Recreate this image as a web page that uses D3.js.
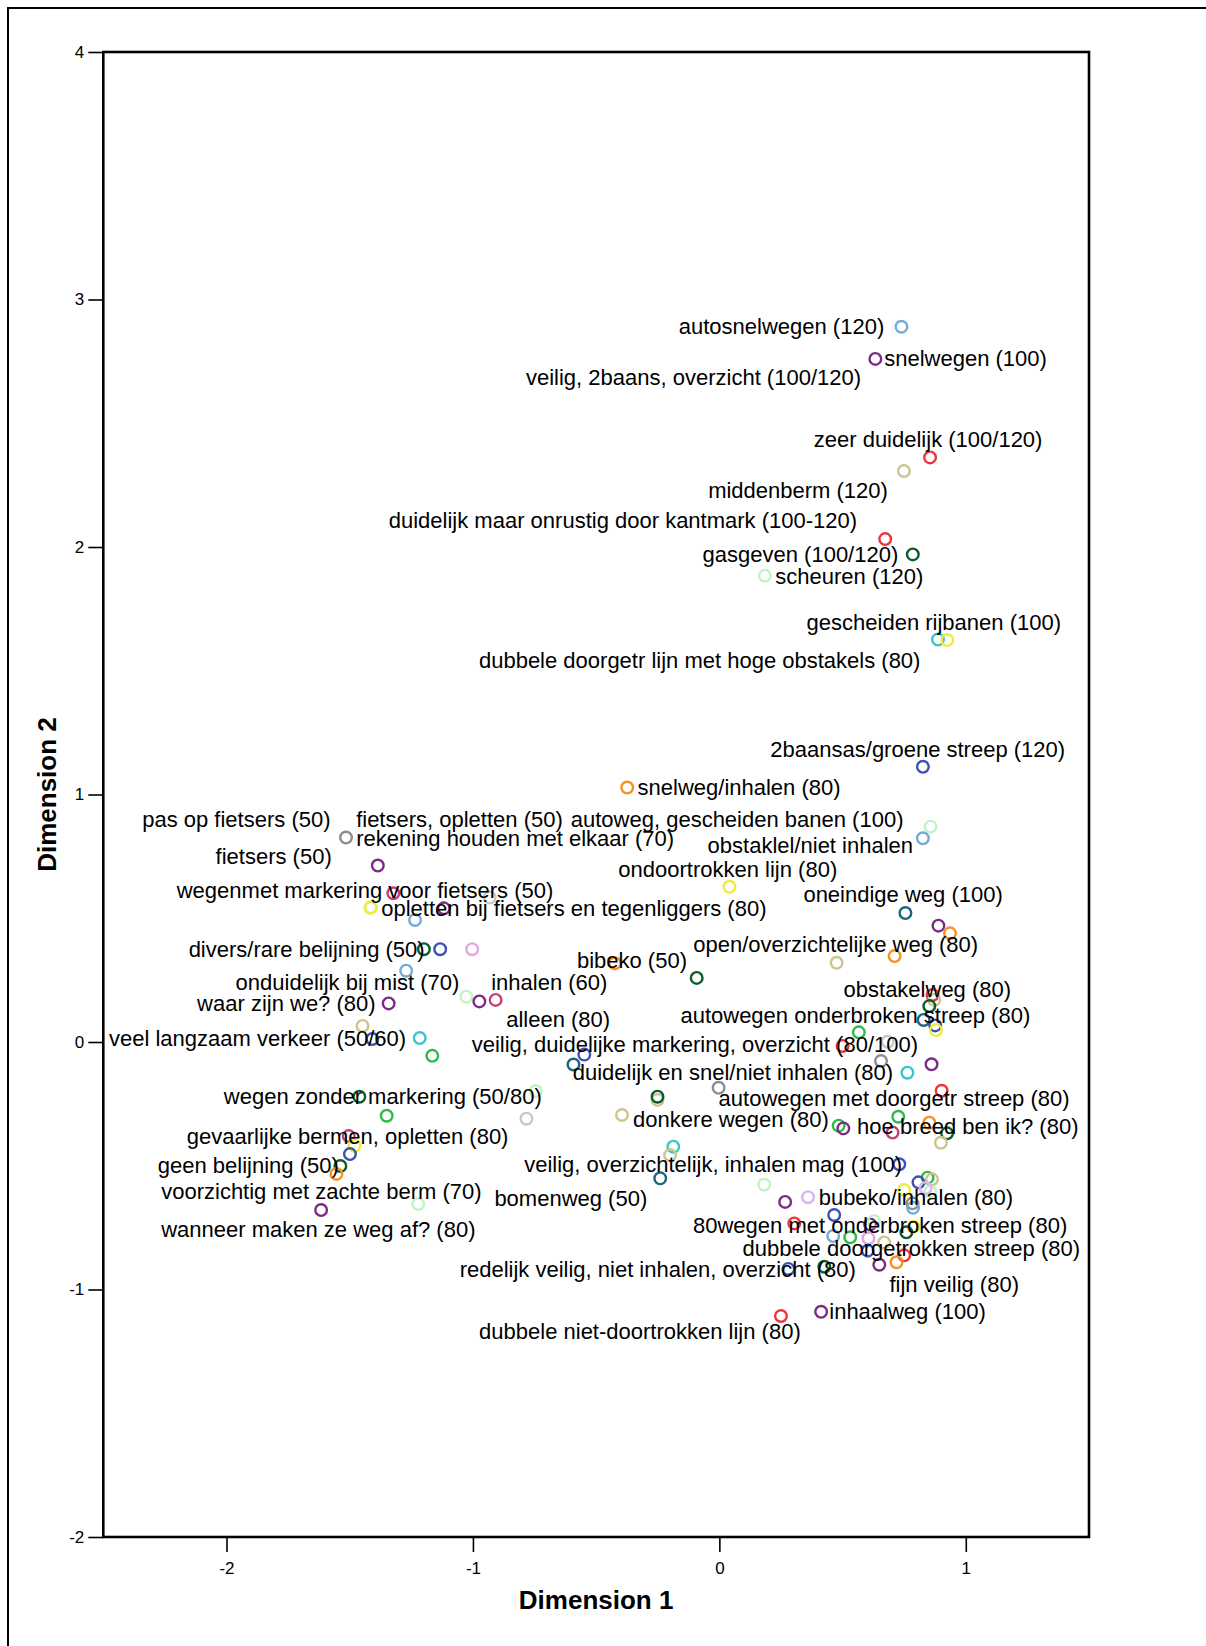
<!DOCTYPE html>
<html>
<head>
<meta charset="utf-8">
<script src="https://cdn.jsdelivr.net/npm/d3@7"></script>
<style>
  body { margin: 0; background: #fff; }
  svg { display: block; }
  text { font-family: "Liberation Sans", Arial, sans-serif; }
</style>
</head>
<body>
<script>
// Object coordinates on the two dimensions, with the colour group of each point
const points = [
  [0.739, 2.890, "lightblue"], [0.633, 2.760, "purple"], [0.855, 2.362, "red"],
  [0.749, 2.307, "tan"], [0.673, 2.032, "red"], [0.785, 1.970, "darkgreen"],
  [0.185, 1.884, "lightgreen"], [0.887, 1.626, "cyan"], [0.925, 1.624, "yellow"],
  [0.826, 1.112, "blue"], [-0.374, 1.028, "orange"], [0.857, 0.870, "lightgreen"],
  [0.826, 0.823, "lightblue"], [0.041, 0.627, "yellow"], [0.755, 0.521, "teal"],
  [0.889, 0.470, "purple"], [0.936, 0.439, "orange"], [0.711, 0.347, "orange"],
  [0.476, 0.320, "tan"], [-0.424, 0.318, "orange"], [-0.092, 0.259, "darkgreen"],
  [0.865, 0.190, "red"], [0.872, 0.170, "tan"], [0.852, 0.145, "darkgreen"],
  [0.829, 0.089, "teal"], [0.876, 0.067, "blue"], [0.879, 0.048, "yellow"],
  [0.566, 0.039, "green"], [0.683, 0.001, "lightgray"], [0.500, -0.016, "red"],
  [0.656, -0.077, "gray"], [0.861, -0.090, "purple"], [0.763, -0.124, "cyan"],
  [0.902, -0.197, "red"], [0.726, -0.302, "green"], [0.852, -0.326, "orange"],
  [0.484, -0.338, "green"], [0.503, -0.349, "purple"], [0.703, -0.366, "crimson"],
  [0.924, -0.369, "darkgreen"], [0.899, -0.407, "tan"], [0.730, -0.494, "blue"],
  [0.845, -0.548, "green"], [0.863, -0.555, "tan"], [0.808, -0.567, "blue"],
  [0.856, -0.605, "lightgreen"], [0.837, -0.590, "lavender"], [0.750, -0.598, "yellow"],
  [0.784, -0.652, "gray"], [0.786, -0.670, "lightblue"], [0.466, -0.699, "blue"],
  [0.612, -0.737, "purple"], [0.627, -0.724, "lightgreen"], [0.788, -0.746, "yellow"],
  [0.759, -0.769, "darkgreen"], [0.462, -0.784, "lightblue"], [0.531, -0.789, "green"],
  [0.605, -0.793, "pink"], [0.669, -0.810, "tan"], [0.602, -0.843, "blue"],
  [0.750, -0.862, "red"], [0.719, -0.890, "orange"], [0.649, -0.900, "purple"],
  [0.426, -0.908, "darkgreen"], [0.413, -1.090, "purple"], [0.304, -0.733, "red"],
  [0.280, -0.917, "blue"], [0.250, -1.107, "red"], [0.267, -0.646, "purple"],
  [0.360, -0.627, "lavender"], [0.182, -0.576, "lightgreen"], [-0.240, -0.551, "teal"],
  [-0.187, -0.423, "cyan"], [-0.200, -0.457, "tan"], [-0.395, -0.295, "tan"],
  [-0.251, -0.234, "tan"], [-0.251, -0.221, "darkgreen"], [-0.003, -0.185, "gray"],
  [-0.745, -0.198, "lightgreen"], [-0.783, -0.310, "lightgray"], [-0.548, -0.051, "blue"],
  [-0.592, -0.091, "teal"], [-1.515, 0.826, "gray"], [-1.386, 0.713, "purple"],
  [-1.323, 0.601, "crimson"], [-0.932, 0.584, "lightgray"], [-1.415, 0.543, "olive"],
  [-1.415, 0.543, "yellow"], [-1.118, 0.540, "purple"], [-1.235, 0.493, "lightblue"],
  [-1.199, 0.375, "darkgreen"], [-1.133, 0.375, "blue"], [-1.003, 0.375, "pink"],
  [-1.271, 0.288, "lightblue"], [-1.027, 0.183, "lightgreen"], [-0.974, 0.164, "purple"],
  [-0.908, 0.170, "crimson"], [-1.342, 0.156, "purple"], [-1.448, 0.065, "tan"],
  [-1.408, 0.012, "blue"], [-1.216, 0.016, "cyan"], [-1.165, -0.056, "green"],
  [-1.461, -0.221, "darkgreen"], [-1.350, -0.298, "green"], [-1.504, -0.380, "crimson"],
  [-1.481, -0.419, "yellow"], [-1.499, -0.453, "blue"], [-1.538, -0.501, "darkgreen"],
  [-1.554, -0.533, "orange"], [-1.222, -0.655, "lightgreen"], [-1.616, -0.679, "purple"]
];

// Object labels: text, anchor on dimension 1, dimension 2, and text anchor side
const labels = [
  ["autosnelwegen (120)", 0.669, 2.890, "end"],
  ["snelwegen (100)", 0.669, 2.760, "start"],
  ["veilig, 2baans, overzicht (100/120)", 0.575, 2.684, "end"],
  ["zeer duidelijk (100/120)", 0.383, 2.436, "start"],
  ["middenberm (120)", 0.684, 2.228, "end"],
  ["duidelijk maar onrustig door kantmark (100-120)", 0.559, 2.106, "end"],
  ["gasgeven (100/120)", 0.726, 1.970, "end"],
  ["scheuren (120)", 0.227, 1.880, "start"],
  ["gescheiden rijbanen (100)", 0.354, 1.696, "start"],
  ["dubbele doorgetr lijn met hoge obstakels (80)", 0.816, 1.543, "end"],
  ["2baansas/groene streep (120)", 0.207, 1.183, "start"],
  ["snelweg/inhalen (80)", -0.332, 1.027, "start"],
  ["pas op fietsers (50)", -1.578, 0.897, "end"],
  ["fietsers, opletten (50)", -1.474, 0.897, "start"],
  ["autoweg, gescheiden banen (100)", -0.603, 0.897, "start"],
  ["rekening houden met elkaar (70)", -1.474, 0.823, "start"],
  ["obstaklel/niet inhalen", 0.786, 0.792, "end"],
  ["fietsers (50)", -1.573, 0.749, "end"],
  ["ondoortrokken lijn (80)", -0.410, 0.698, "start"],
  ["wegenmet markering voor fietsers (50)", -2.202, 0.614, "start"],
  ["opletten bij fietsers en tegenliggers (80)", -1.372, 0.540, "start"],
  ["oneindige weg (100)", 0.341, 0.594, "start"],
  ["open/overzichtelijke weg (80)", -0.106, 0.392, "start"],
  ["divers/rare belijning (50)", -1.196, 0.372, "end"],
  ["bibeko (50)", -0.578, 0.331, "start"],
  ["onduidelijk bij mist (70)", -1.055, 0.240, "end"],
  ["inhalen (60)", -0.926, 0.240, "start"],
  ["obstakelweg (80)", 0.504, 0.213, "start"],
  ["waar zijn we? (80)", -1.395, 0.156, "end"],
  ["autowegen onderbroken streep (80)", -0.158, 0.109, "start"],
  ["alleen (80)", -0.865, 0.089, "start"],
  ["veel langzaam verkeer (50/60)", -1.271, 0.015, "end"],
  ["veilig, duidelijke markering, overzicht (80/100)", -1.005, -0.012, "start"],
  ["duidelijk en snel/niet inhalen (80)", -0.595, -0.124, "start"],
  ["wegen zonder markering (50/80)", -2.011, -0.221, "start"],
  ["autowegen met doorgetr streep (80)", -0.003, -0.227, "start"],
  ["donkere wegen (80)", -0.350, -0.315, "start"],
  ["hoe breed ben ik? (80)", 0.559, -0.343, "start"],
  ["gevaarlijke bermen, opletten (80)", -2.161, -0.380, "start"],
  ["geen belijning (50)", -2.279, -0.497, "start"],
  ["veilig, overzichtelijk, inhalen mag (100)", -0.792, -0.493, "start"],
  ["voorzichtig met zachte berm (70)", -2.265, -0.605, "start"],
  ["bomenweg (50)", -0.913, -0.632, "start"],
  ["bubeko/inhalen (80)", 0.403, -0.629, "start"],
  ["80wegen met onderbroken streep (80)", -0.107, -0.743, "start"],
  ["wanneer maken ze weg af? (80)", -2.265, -0.756, "start"],
  ["dubbele doorgetrokken streep (80)", 0.094, -0.834, "start"],
  ["redelijk veilig, niet inhalen, overzicht (80)", -1.054, -0.921, "start"],
  ["fijn veilig (80)", 0.690, -0.978, "start"],
  ["inhaalweg (100)", 0.446, -1.090, "start"],
  ["dubbele niet-doortrokken lijn (80)", -0.975, -1.171, "start"]
];

const xTicks = [-2, -1, 0, 1];
const yTicks = [-2, -1, 0, 1, 2, 3, 4];
const xTitle = "Dimension 1";
const yTitle = "Dimension 2";

// Marker colours per group
const palette = {
  lightblue: "#74acd6", purple: "#7b2a86", red: "#f0323c", tan: "#cbc58f",
  darkgreen: "#0d5c2c", lightgreen: "#c2f3c2", cyan: "#3cc6ca", yellow: "#f0ec3a",
  blue: "#3a52b4", orange: "#f7901e", gray: "#8a8e92", lightgray: "#c8c8c8",
  crimson: "#c83c78", pink: "#e2a6e2", lavender: "#d8b6f2", green: "#2cbc46",
  teal: "#1c6480", olive: "#b8cc6a"
};

const W = 1206, H = 1646;
const plot = { left: 103.3, right: 1089, top: 52, bottom: 1537 };

const svg = d3.select("body").append("svg")
  .attr("width", W).attr("height", H);

svg.append("rect").attr("width", W).attr("height", H).attr("fill", "#fff");

// outer frame
svg.append("rect")
  .attr("x", 8).attr("y", 8)
  .attr("width", 1400).attr("height", 1800)
  .attr("fill", "none").attr("stroke", "#000").attr("stroke-width", 2);

const x = d3.scaleLinear().domain([-2.5, 1.5]).range([plot.left, plot.right]);
const y = d3.scaleLinear().domain([-2, 4]).range([plot.bottom, plot.top]);

const xAxis = svg.append("g")
  .attr("transform", `translate(0,${plot.bottom})`)
  .call(d3.axisBottom(x).tickValues(xTicks).tickSize(15).tickPadding(10)
    .tickFormat(d => String(d)));
const yAxis = svg.append("g")
  .attr("transform", `translate(${plot.left},0)`)
  .call(d3.axisLeft(y).tickValues(yTicks).tickSize(15).tickPadding(4)
    .tickFormat(d => String(d)));

[xAxis, yAxis].forEach(g => {
  g.select(".domain").remove();
  g.selectAll(".tick line").attr("stroke", "#000").attr("stroke-width", 1.6);
  g.selectAll(".tick text")
    .attr("fill", "#000")
    .style("font-family", "'Liberation Sans', Arial, sans-serif")
    .style("font-size", "17px");
});

// plot box
svg.append("rect")
  .attr("x", plot.left).attr("y", plot.top)
  .attr("width", plot.right - plot.left).attr("height", plot.bottom - plot.top)
  .attr("fill", "none").attr("stroke", "#000").attr("stroke-width", 2.6);

// markers
svg.append("g").selectAll("circle")
  .data(points)
  .join("circle")
  .attr("cx", d => x(d[0]))
  .attr("cy", d => y(d[1]))
  .attr("r", 5.8)
  .attr("fill", "none")
  .attr("stroke", d => palette[d[2]])
  .attr("stroke-width", 2.4);

// object labels
svg.append("g").selectAll("text")
  .data(labels)
  .join("text")
  .attr("x", d => x(d[1]))
  .attr("y", d => y(d[2]))
  .attr("text-anchor", d => d[3])
  .attr("dominant-baseline", "central")
  .attr("fill", "#000")
  .style("font-size", "22px")
  .text(d => d[0]);

// axis titles
svg.append("text")
  .attr("x", (plot.left + plot.right) / 2)
  .attr("y", 1600)
  .attr("text-anchor", "middle")
  .attr("dominant-baseline", "central")
  .style("font-size", "26px").style("font-weight", "bold")
  .text(xTitle);

svg.append("text")
  .attr("transform", `translate(47,${(plot.top + plot.bottom) / 2}) rotate(-90)`)
  .attr("text-anchor", "middle")
  .attr("dominant-baseline", "central")
  .style("font-size", "26px").style("font-weight", "bold")
  .text(yTitle);
</script>
</body>
</html>
